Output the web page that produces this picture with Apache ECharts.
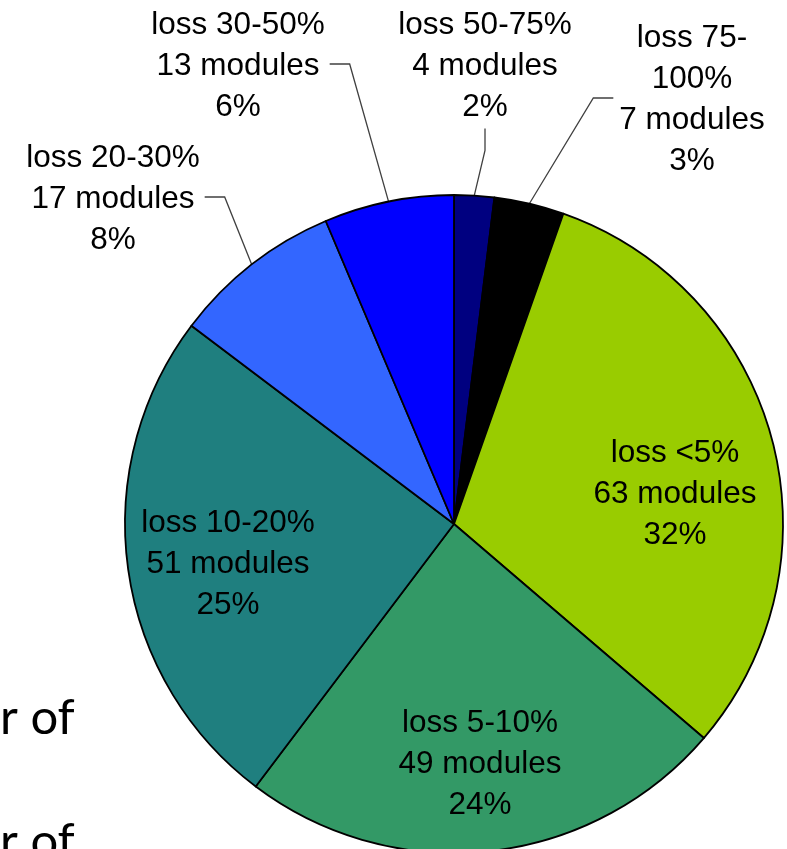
<!DOCTYPE html>
<html>
<head>
<meta charset="utf-8">
<script src="https://cdn.jsdelivr.net/npm/echarts@6/dist/echarts.min.js"></script>
<style>
  html, body { margin: 0; padding: 0; background: #fff; }
  #chart { width: 787px; height: 849px; }
</style>
</head>
<body>
<div id="chart"></div>
<script>
// slices, clockwise from 12 o'clock
const categories = ['loss 50-75%', 'loss 75-100%', 'loss <5%', 'loss 5-10%', 'loss 10-20%', 'loss 20-30%', 'loss 30-50%'];
const moduleCounts = [4, 7, 63, 49, 51, 17, 13];
const percentLabels = ['2%', '3%', '32%', '24%', '25%', '8%', '6%'];
const sliceColors = ['#000080', '#000000', '#99CC00', '#339966', '#1F7F7F', '#3366FF', '#0000FF'];

const CX = 454, CY = 524, R = 329;

// where Excel put each label (centre), and which side the leader line leaves from
const labelSpots = [
  { x: 485, y: 66, side: 'bottom' },
  { x: 692, y: 100, side: 'left' },
  { x: 675, y: 494 },
  { x: 480, y: 764 },
  { x: 228, y: 564 },
  { x: 113, y: 199, side: 'right' },
  { x: 238, y: 66, side: 'right' }
];

const total = moduleCounts.reduce((a, b) => a + b, 0);
const midAngles = [];
let acc = 0;
moduleCounts.forEach((v) => {
  midAngles.push(((acc + v / 2) / total) * Math.PI * 2);
  acc += v;
});

const chart = echarts.init(document.getElementById('chart'));

const pieData = categories.map((name, i) => {
  const outside = !!labelSpots[i].side;
  return {
    name: name,
    value: moduleCounts[i],
    itemStyle: { color: sliceColors[i] },
    label: { position: outside ? 'outside' : 'inside' },
    labelLine: { show: outside }
  };
});

chart.setOption({
  backgroundColor: '#ffffff',
  animation: false,
  graphic: [
    {
      type: 'text', left: 0, top: 694,
      style: { text: 'r of', font: '49px Lato', fill: '#000' }
    },
    {
      type: 'text', left: 0, top: 818,
      style: { text: 'r of', font: '49px Lato', fill: '#000' }
    }
  ],
  series: [
    {
      type: 'pie',
      center: [CX, CY],
      radius: R,
      startAngle: 90,
      clockwise: true,
      avoidLabelOverlap: false,
      emphasis: { disabled: true },
      itemStyle: { borderColor: '#000', borderWidth: 1.8 },
      label: {
        color: '#000',
        fontFamily: 'Liberation Sans, Arial, sans-serif',
        fontSize: 31.5,
        lineHeight: 41,
        align: 'center',
        formatter: (p) => {
          const name = p.name.replace('75-100%', '75-\n100%');
          return name + '\n' + p.value + ' modules\n' + percentLabels[p.dataIndex];
        }
      },
      labelLine: {
        lineStyle: { color: '#404040', width: 1.3 }
      },
      labelLayout: (params) => {
        const i = params.dataIndex;
        const spot = labelSpots[i];
        const w = params.labelRect.width;
        const h = params.labelRect.height;
        const out = { x: spot.x, y: spot.y, align: 'center', verticalAlign: 'middle' };
        if (spot.side) {
          const a = midAngles[i];
          const arcPt = [CX + R * Math.sin(a), CY - R * Math.cos(a)];
          let start, elbow;
          if (spot.side === 'right') {
            start = [spot.x + w / 2 + 5, spot.y - 2];
            elbow = [start[0] + 20, start[1]];
          } else if (spot.side === 'left') {
            start = [spot.x - w / 2 - 6, spot.y - 2];
            elbow = [start[0] - 20, start[1]];
          } else {
            start = [spot.x, spot.y + h / 2 + 1];
            elbow = [spot.x, start[1] + 22];
          }
          out.labelLinePoints = [arcPt, elbow, start];
        }
        return out;
      },
      data: pieData
    }
  ]
});
</script>
</body>
</html>
